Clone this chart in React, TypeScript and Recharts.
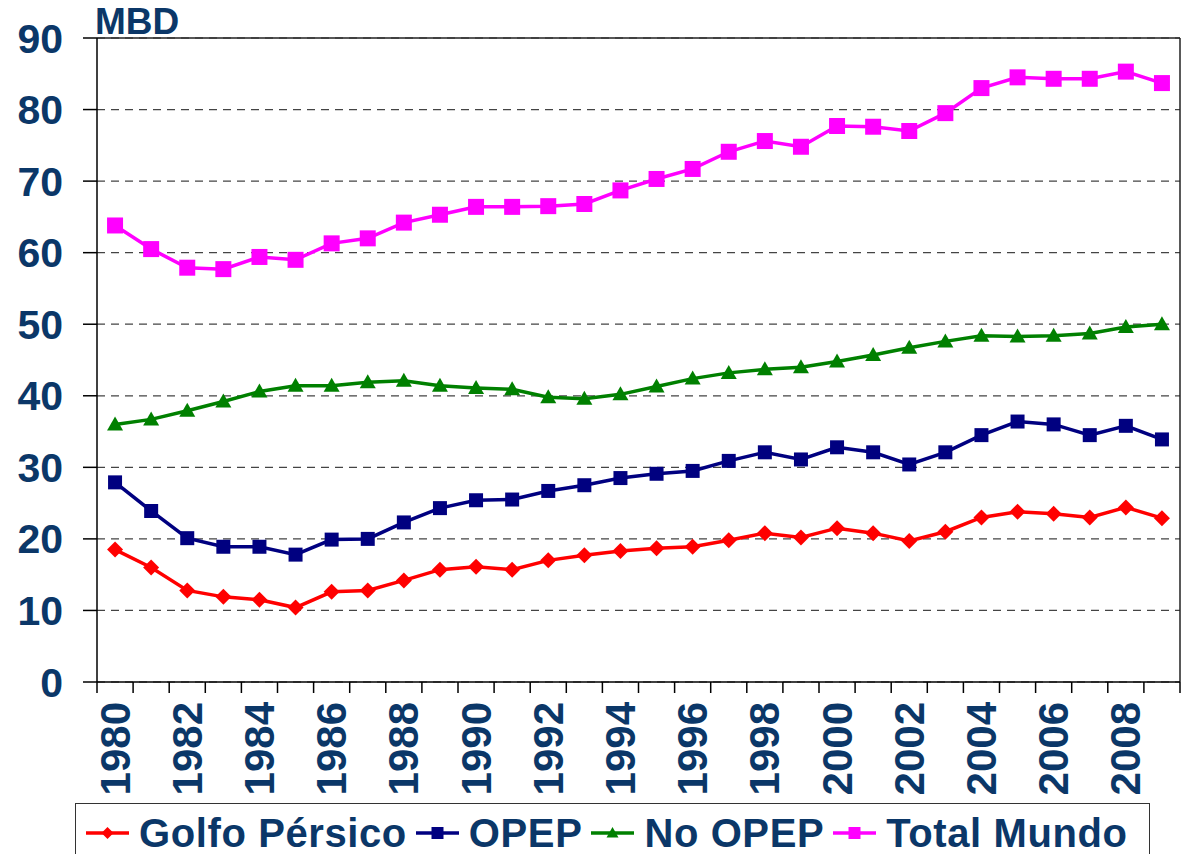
import React from 'react';
import { LineChart, Line, XAxis, YAxis, CartesianGrid, Legend, ReferenceLine } from 'recharts';

const years = [1980, 1981, 1982, 1983, 1984, 1985, 1986, 1987, 1988, 1989, 1990, 1991, 1992, 1993, 1994, 1995, 1996, 1997, 1998, 1999, 2000, 2001, 2002, 2003, 2004, 2005, 2006, 2007, 2008, 2009];
const golfoPersico = [18.5, 16.0, 12.8, 11.9, 11.5, 10.4, 12.6, 12.8, 14.2, 15.7, 16.1, 15.7, 17.0, 17.7, 18.3, 18.7, 18.9, 19.8, 20.8, 20.2, 21.5, 20.8, 19.7, 21.0, 23.0, 23.8, 23.5, 23.0, 24.4, 22.9];
const opep = [27.9, 23.9, 20.1, 18.9, 18.9, 17.8, 19.9, 20.0, 22.3, 24.3, 25.4, 25.5, 26.7, 27.5, 28.5, 29.1, 29.5, 30.9, 32.1, 31.1, 32.8, 32.1, 30.4, 32.1, 34.5, 36.4, 36.0, 34.5, 35.8, 33.9];
const noOpep = [36.0, 36.7, 37.9, 39.2, 40.6, 41.4, 41.4, 41.9, 42.1, 41.4, 41.1, 40.9, 39.8, 39.6, 40.2, 41.3, 42.4, 43.2, 43.7, 44.0, 44.8, 45.7, 46.7, 47.6, 48.4, 48.3, 48.4, 48.7, 49.6, 50.0];
const totalMundo = [63.8, 60.5, 57.9, 57.7, 59.4, 59.0, 61.3, 62.0, 64.2, 65.3, 66.4, 66.4, 66.5, 66.8, 68.7, 70.3, 71.7, 74.1, 75.6, 74.8, 77.7, 77.6, 77.0, 79.5, 83.0, 84.5, 84.3, 84.3, 85.3, 83.7];

const yTicks = [0, 10, 20, 30, 40, 50, 60, 70, 80, 90];
const yearLabelTicks = [1980, 1982, 1984, 1986, 1988, 1990, 1992, 1994, 1996, 1998, 2000, 2002, 2004, 2006, 2008];
const boundaryTicks = [1979.5, 1980.5, 1981.5, 1982.5, 1983.5, 1984.5, 1985.5, 1986.5, 1987.5, 1988.5, 1989.5, 1990.5, 1991.5, 1992.5, 1993.5, 1994.5, 1995.5, 1996.5, 1997.5, 1998.5, 1999.5, 2000.5, 2001.5, 2002.5, 2003.5, 2004.5, 2005.5, 2006.5, 2007.5, 2008.5, 2009.5];

const seriesNames = ['Golfo Pérsico', 'OPEP', 'No OPEP', 'Total Mundo'];
const seriesKeys = ['golfo', 'opep', 'noopep', 'total'];
const seriesColors = ['#FF0000', '#000080', '#008000', '#FF00FF'];
const seriesShapes = ['diamond', 'square', 'triangle', 'square'];
const markerSizes = [8, 7, 8, 8];

const data = years.map((y, i) => ({
  year: y,
  golfo: golfoPersico[i],
  opep: opep[i],
  noopep: noOpep[i],
  total: totalMundo[i],
}));

const TEXT = '#0B3768';
const FONT = '"Liberation Sans", Arial, sans-serif';

function markerPath(shape: string, cx: number, cy: number, r: number) {
  if (shape === 'diamond') return `M${cx},${cy - r} L${cx + r},${cy} L${cx},${cy + r} L${cx - r},${cy} Z`;
  if (shape === 'triangle') return `M${cx},${cy - r} L${cx + r},${cy + r * 0.75} L${cx - r},${cy + r * 0.75} Z`;
  return `M${cx - r},${cy - r} L${cx + r},${cy - r} L${cx + r},${cy + r} L${cx - r},${cy + r} Z`;
}

const makeDot = (idx: number) => (props: any) => {
  const { cx, cy, index } = props;
  if (cx == null || cy == null) return <g key={`d-${idx}-${index}`} />;
  return <path key={`d-${idx}-${index}`} d={markerPath(seriesShapes[idx], cx, cy, markerSizes[idx])} fill={seriesColors[idx]} stroke="none" />;
};

const YearTick = (props: any) => {
  const { x, y, payload } = props;
  return (
    <text
      x={x}
      y={y}
      transform={`rotate(-90, ${x}, ${y})`}
      textAnchor="end"
      dominantBaseline="central"
      fill={TEXT}
      fontFamily={FONT}
      fontWeight="bold"
      fontSize={42}
    >
      {payload.value}
    </text>
  );
};

const LegendContent = () => (
  <div
    style={{
      boxSizing: 'border-box',
      width: 1075,
      height: 60,
      border: '1.5px solid #333',
      display: 'flex',
      alignItems: 'center',
      paddingLeft: 10,
      fontFamily: FONT,
      fontWeight: 'bold',
      fontSize: 40,
      letterSpacing: '0.6px',
      color: TEXT,
      whiteSpace: 'nowrap',
      background: '#fff',
    }}
  >
    {seriesNames.map((n, i) => (
      <div key={n} style={{ display: 'flex', alignItems: 'center', marginRight: 9 }}>
        <svg width={43} height={20} style={{ marginRight: 10 }}>
          <line x1={0} y1={10} x2={43} y2={10} stroke={seriesColors[i]} strokeWidth={3.5} />
          <path d={markerPath(seriesShapes[i], 21.5, 10, 6)} fill={seriesColors[i]} />
        </svg>
        <span>{n}</span>
      </div>
    ))}
  </div>
);

export default function App() {
  return (
    <div style={{ position: 'absolute', left: 0, top: 0, width: 1182, height: 854, background: '#fff' }}>
      <div
        style={{
          position: 'absolute',
          left: 95,
          top: 4,
          fontFamily: FONT,
          fontWeight: 'bold',
          fontSize: 37,
          color: TEXT,
          lineHeight: '36px',
          zIndex: 2,
        }}
      >
        MBD
      </div>
      <LineChart width={1182} height={854} data={data} margin={{ top: 38, right: 2, left: 0, bottom: 0 }}>
        <CartesianGrid horizontal vertical={false} xAxisId="year" strokeDasharray="8 6" stroke="#444" strokeWidth={1.2} />
        <XAxis
          xAxisId="bounds"
          dataKey="year"
          type="number"
          domain={[1979.5, 2009.5]}
          ticks={boundaryTicks}
          allowDataOverflow
          height={12}
          tickSize={11}
          tickFormatter={() => ''}
          axisLine={{ stroke: '#000', strokeWidth: 1.5 }}
          tickLine={{ stroke: '#000', strokeWidth: 1.5 }}
          interval={0}
        />
        <XAxis
          xAxisId="year"
          dataKey="year"
          type="number"
          domain={[1979.5, 2009.5]}
          ticks={yearLabelTicks}
          allowDataOverflow
          height={100}
          tickSize={0}
          tickMargin={8}
          axisLine={false}
          tickLine={false}
          interval={0}
          tick={<YearTick />}
        />
        <YAxis
          domain={[0, 90]}
          ticks={yTicks}
          width={97}
          tickSize={14}
          tickMargin={20}
          interval={0}
          axisLine={{ stroke: '#000', strokeWidth: 1.5 }}
          tickLine={{ stroke: '#000', strokeWidth: 1.5 }}
          tick={{ fill: TEXT, fontFamily: FONT, fontWeight: 'bold', fontSize: 41 }}
        />
        <ReferenceLine xAxisId="year" y={90} stroke="#222" strokeWidth={1.5} />
        <ReferenceLine xAxisId="year" x={2009.5} stroke="#222" strokeWidth={1.5} />
        {seriesKeys.map((k, i) => (
          <Line
            key={k}
            xAxisId="year"
            type="linear"
            dataKey={k}
            name={seriesNames[i]}
            stroke={seriesColors[i]}
            strokeWidth={3.5}
            dot={makeDot(i)}
            activeDot={false}
            isAnimationActive={false}
          />
        ))}
        <Legend
          content={<LegendContent />}
          wrapperStyle={{ position: 'absolute', left: 75, top: 803, width: 1075, height: 60 }}
        />
      </LineChart>
    </div>
  );
}
